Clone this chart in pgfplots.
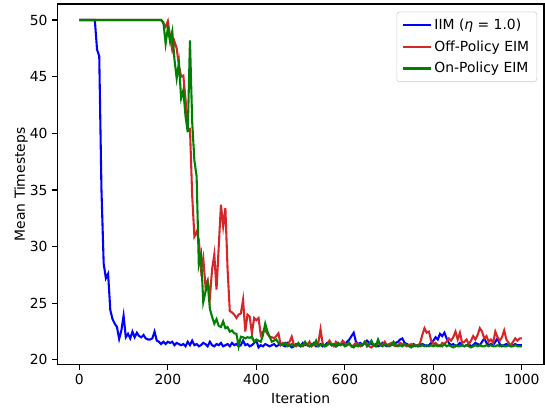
\documentclass[border=0pt]{standalone}
\usepackage{pgfplots}
\pgfplotsset{compat=1.18}
\usepackage{fontspec}
\setmainfont{DejaVu Sans}
\definecolor{mblue}{rgb}{0,0,1}
\definecolor{mred}{HTML}{D62728}
\definecolor{mgreen}{rgb}{0,0.5,0}
\begin{document}
\begin{tikzpicture}
\begin{axis}[
  name=ax,
  width=350.6pt, height=259.9pt, scale only axis,
  xmin=-50, xmax=1050, ymin=19.56, ymax=51.41,
  xtick={0,200,400,600,800,1000},
  ytick={20,25,30,35,40,45,50},
  xtick pos=bottom, ytick pos=left,
  tick align=outside,
  major tick length=3.5pt,
  tick style={line width=0.8pt, black},
  axis line style={line width=0.8pt},
  /pgf/number format/assume math mode=true,
  /pgf/number format/1000 sep={},
  ticklabel style={font=\fontsize{10}{12}\selectfont},
  label style={font=\fontsize{10}{12}\selectfont},
  xlabel={Iteration},
  ylabel={Mean Timesteps},
  xlabel style={yshift=1pt},
  ylabel style={yshift=-5.5pt},
  legend style={at={(1,1)}, anchor=north east, xshift=-5pt, yshift=-5.5pt,
    draw=black!20, rounded corners=2pt, font=\fontsize{10}{12}\selectfont,
    inner xsep=3.5pt, inner ysep=3pt, row sep=2.5pt},
  legend cell align=left,
  legend image code/.code={\draw[#1] (0pt,0pt) -- (20pt,0pt);},
]
\addplot[mblue, line width=1.5pt] table {
x y
0 50
35 50
40 47.4
45 46.8
50 35
55 28.5
60 27.2
65 27.6
70 24.4
75 23.6
80 23.2
85 22.9
90 21.85
95 22.6
100 23.9
105 22.0
110 22.3
115 21.9
120 22.5
125 22.0
130 22.4
135 22.1
140 22.0
145 22.2
150 21.9
155 21.8
160 21.8
165 21.9
170 22.5
175 21.7
180 21.6
185 21.4
190 21.6
195 21.4
200 21.6
205 21.5
210 21.6
215 21.3
220 21.5
225 21.4
230 21.3
235 21.4
240 21.2
245 21.6
250 21.3
255 21.7
260 21.3
265 21.4
270 21.2
275 21.3
280 21.5
285 21.4
290 21.2
295 21.6
300 21.3
305 21.2
310 21.4
315 21.3
320 21.5
325 21.2
330 21.3
335 21.4
340 21.2
345 21.5
350 21.3
355 21.4
360 21.2
365 21.3
370 21.7
375 21.3
380 21.4
385 21.2
390 21.3
395 21.5
400 21.7
405 21.1
410 21.3
415 21.2
420 21.4
425 21.3
430 21.2
435 21.3
440 21.4
445 21.2
450 21.3
455 21.4
460 21.3
465 21.2
470 21.5
475 21.3
480 21.1
485 21.2
490 21.4
495 21.3
500 21.2
505 21.5
510 21.3
515 21.4
520 21.2
525 21.3
530 21.5
535 21.2
540 21.3
545 21.4
550 21.2
555 21.3
560 21.5
565 21.6
570 21.3
575 21.4
580 21.2
585 21.3
590 21.4
595 21.5
600 21.4
605 21.6
610 21.8
615 22.1
620 22.4
625 21.6
630 21.4
635 21.5
640 21.3
645 21.5
650 21.7
655 21.5
660 21.4
665 21.3
670 21.4
675 21.2
680 21.3
685 21.5
690 21.3
695 21.2
700 21.3
705 21.4
710 21.3
715 21.5
720 21.6
725 21.8
730 21.9
735 21.5
740 21.4
745 21.3
750 21.2
755 21.4
760 21.3
765 21.2
770 21.3
775 21.4
780 21.3
785 21.2
790 21.3
795 21.5
800 21.7
805 22.0
810 21.8
815 22.3
820 22.1
825 22.4
830 21.9
835 21.5
840 21.3
845 21.4
850 21.2
855 21.3
860 21.5
865 21.3
870 21.2
875 21.3
880 21.4
885 21.2
890 21.3
895 21.5
900 21.4
905 21.3
910 21.6
915 21.9
920 21.5
925 21.3
930 21.4
935 21.3
940 21.6
945 21.9
950 21.4
955 21.2
960 21.3
965 21.4
970 21.3
975 21.2
980 21.3
985 21.4
990 21.3
995 21.3
1000 21.3
};
\addlegendentry{IIM ({\itshape η} = 1.0)}
\addplot[mred, line width=1.5pt] table {
x y
0 50
185 50
190 49.7
195 49.4
200 49.9
205 48.6
210 47.35
215 48.1
220 47.5
225 46.0
230 45.0
235 45.1
240 43.0
245 40.4
250 40.4
255 34.5
260 30.9
265 31.3
270 30.6
275 28.0
280 29.0
285 26.5
290 27.0
295 25.5
300 28.0
305 29.3
310 26.2
315 30.0
320 33.7
325 31.8
330 33.4
335 28.0
340 24.3
345 24.2
350 24.0
355 23.7
360 24.0
365 24.1
370 25.3
375 22.5
380 24.0
385 23.8
390 22.35
395 23.7
400 23.5
405 23.7
410 22.2
415 22.5
420 22.6
425 22.3
430 22.05
435 22.0
440 21.9
445 22.1
450 22.35
455 21.3
460 21.5
465 21.4
470 21.3
475 21.6
480 22.05
485 21.3
490 21.2
495 21.4
500 21.3
505 21.2
510 21.5
515 21.3
520 21.6
525 21.2
530 21.4
535 21.3
540 21.5
545 22.7
550 21.4
555 21.2
560 21.3
565 21.7
570 21.4
575 21.2
580 21.6
585 21.4
590 21.3
595 21.7
600 21.5
605 21.3
610 21.4
615 21.2
620 21.3
625 21.5
630 21.4
635 21.2
640 21.3
645 21.6
650 21.4
655 21.2
660 21.1
665 21.3
670 21.2
675 21.5
680 21.4
685 21.3
690 21.6
695 21.3
700 21.4
705 21.5
710 21.3
715 21.2
720 21.3
725 21.5
730 21.4
735 21.3
740 21.2
745 21.3
750 21.4
755 21.2
760 21.3
765 21.2
770 21.5
775 22.2
780 22.8
785 22.4
790 22.5
795 21.7
800 21.4
805 21.5
810 21.3
815 21.2
820 21.5
825 21.4
830 21.6
835 21.9
840 21.7
845 22.0
850 22.5
855 21.8
860 22.4
865 21.5
870 21.6
875 21.8
880 21.4
885 21.7
890 22.1
895 21.8
900 22.2
905 22.8
910 22.5
915 21.9
920 22.1
925 21.6
930 21.8
935 21.5
940 22.5
945 22.0
950 21.7
955 22.0
960 22.6
965 21.8
970 21.5
975 21.3
980 21.6
985 21.9
990 21.7
995 21.9
1000 21.9
};
\addlegendentry{Off-Policy EIM}
\addplot[mgreen, line width=1.5pt] table {
x y
0 50
185 50
190 49.8
195 47.9
200 49.3
205 48.1
210 49.0
215 46.5
220 44.85
225 46.2
230 43.1
235 43.8
240 41.5
245 40.1
250 48.2
255 41.0
260 37.6
265 36.2
270 28.4
275 29.3
280 25.1
285 26.0
290 26.8
295 24.5
300 23.8
305 23.2
310 23.6
315 23.0
320 22.9
325 23.4
330 22.8
335 22.9
340 22.5
345 22.6
350 22.35
355 22.3
360 21.2
365 22.05
370 22.0
375 21.9
380 22.0
385 21.95
390 22.05
395 21.6
400 21.8
405 21.7
410 21.6
415 22.2
420 23.2
425 22.5
430 22.05
435 21.6
440 21.7
445 21.8
450 21.5
455 21.4
460 21.3
465 21.5
470 21.2
475 21.3
480 21.4
485 21.2
490 21.3
495 21.5
500 21.2
505 21.3
510 21.6
515 21.3
520 21.2
525 21.4
530 21.3
535 21.7
540 21.2
545 21.3
550 21.4
555 21.2
560 21.3
565 21.5
570 21.3
575 21.4
580 21.2
585 21.5
590 21.3
595 21.4
600 21.2
605 21.3
610 21.5
615 21.2
620 21.1
625 21.3
630 21.2
635 21.4
640 21.3
645 21.6
650 21.2
655 21.4
660 21.7
665 21.3
670 21.2
675 21.8
680 21.3
685 21.2
690 21.4
695 21.3
700 21.2
705 21.3
710 21.6
715 21.3
720 21.2
725 21.3
730 21.2
735 21.4
740 21.3
745 21.2
750 21.1
755 21.3
760 21.2
765 21.3
770 21.2
775 21.3
780 21.2
785 21.3
790 21.2
795 21.3
800 21.2
805 21.3
810 21.2
815 21.3
820 21.2
825 21.4
830 21.2
835 21.3
840 21.2
845 21.1
850 21.3
855 21.2
860 21.2
865 21.3
870 21.2
875 21.3
880 21.2
885 21.1
890 21.2
895 21.3
900 21.2
905 21.3
910 21.2
915 21.2
920 21.3
925 21.2
930 21.3
935 21.2
940 21.2
945 21.3
950 21.2
955 21.3
960 21.2
965 21.2
970 21.3
975 21.2
980 21.2
985 21.3
990 21.2
995 21.2
1000 21.2
};
\addlegendentry{On-Policy EIM}
\end{axis}
\path ([xshift=-41.2pt,yshift=-33.8pt]ax.south west) rectangle ([xshift=0.72pt,yshift=2.9pt]ax.north east);
\end{tikzpicture}
\end{document}
